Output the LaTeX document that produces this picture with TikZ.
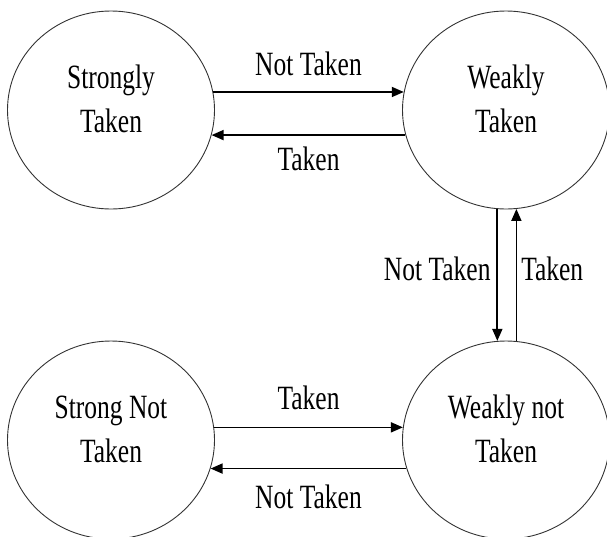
\documentclass[tikz,border=0pt]{standalone}
\usepackage{fontspec}
\setmainfont{Liberation Serif}[FakeStretch=0.75]
\usetikzlibrary{shapes.geometric,arrows.meta,positioning}

\begin{document}
\begin{tikzpicture}[x=1pt,y=-1pt,font=\fontsize{34}{44}\selectfont,
  state/.style={ellipse,draw=black!80,line width=0.9pt,minimum width=207pt,minimum height=198pt,inner sep=0pt,align=center,text height=67pt,text depth=23pt},
  arr/.style={line width=1.7pt,-{Triangle[length=12pt,width=10pt]}},
  lab/.style={inner sep=0pt}]
\useasboundingbox (0,0) rectangle (607,536);
\node[state] (st) at (111,110) {Strongly\\Taken};
\node[state] (wt) at (506,110) {Weakly\\Taken};
\node[state] (snt) at (111,440) {Strong Not\\Taken};
\node[state] (wnt) at (506,440) {Weakly not\\Taken};
\draw[arr] (st.10) -- node[lab,above=15pt] {Not Taken} (wt.170);
\draw[arr] (wt.194) -- node[lab,below=11pt] {Taken} (st.-14);
\draw[arr] (snt.7) -- node[lab,above=17pt] {Taken} (wnt.173);
\draw[arr] (wnt.196) -- node[lab,below=16pt] {Not Taken} (snt.-16);
\draw[arr] (wt.-95) -- node[lab,left=6pt,yshift=6pt] {Not Taken} (wnt.95);
\draw[arr] (wnt.84) -- node[lab,right=4pt,yshift=6pt] {Taken} (wt.-84);
\end{tikzpicture}
\end{document}
